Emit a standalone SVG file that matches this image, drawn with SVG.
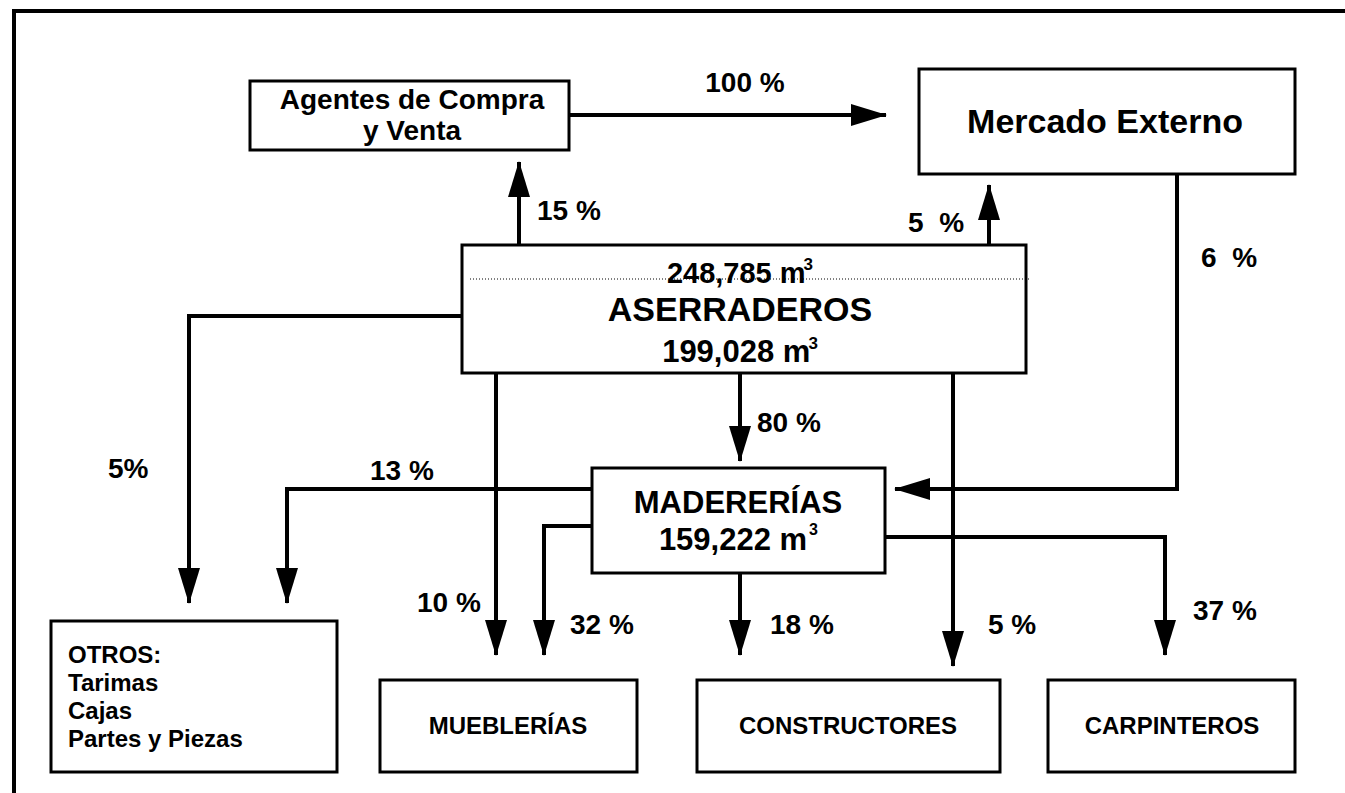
<svg xmlns="http://www.w3.org/2000/svg" width="1345" height="793" viewBox="0 0 1345 793">
<defs>
<style>
.box{fill:#fff;stroke:#000;stroke-width:3}
.t{font-family:"Liberation Sans",Arial,sans-serif;font-weight:bold;fill:#000}
.c{text-anchor:middle}
.pct{font-size:28px}
.con{fill:none;stroke:#000;stroke-width:4;marker-end:url(#ah)}
</style>
<marker id="ah" markerUnits="userSpaceOnUse" markerWidth="36" markerHeight="22" viewBox="0 0 36 22" refX="35" refY="11" orient="auto">
<path d="M0,0 L36,11 L0,22 z" fill="#000"/>
</marker>
</defs>
<rect width="1345" height="793" fill="#fff"/>
<path d="M14,793 V11 H1345" fill="none" stroke="#000" stroke-width="4"/>

<g id="connectors">
<path class="con" d="M570,115 H886"/>
<path class="con" d="M519,245 V162"/>
<path class="con" d="M989,245 V185"/>
<path class="con" d="M1177,174 V489 H895"/>
<path class="con" d="M462,316 H189 V603"/>
<path class="con" d="M496,373 V655"/>
<path class="con" d="M740,373 V461"/>
<path class="con" d="M953,373 V666"/>
<path class="con" d="M592,489 H287 V603"/>
<path class="con" d="M592,526 H544 V655"/>
<path class="con" d="M740,573 V655"/>
<path class="con" d="M885,537 H1165 V655"/>
</g>

<g id="labels" class="t pct">
<text x="745" y="92" class="c">100 %</text>
<text x="537" y="220">15 %</text>
<text x="908" y="232" xml:space="preserve">5  %</text>
<text x="1201" y="267" xml:space="preserve">6  %</text>
<text x="108" y="478">5%</text>
<text x="370" y="480">13 %</text>
<text x="757" y="432">80 %</text>
<text x="417" y="612">10 %</text>
<text x="570" y="634">32 %</text>
<text x="770" y="634">18 %</text>
<text x="988" y="634">5 %</text>
<text x="1193" y="620">37 %</text>
</g>

<g id="agentes">
<rect class="box" x="250" y="81" width="319" height="69"/>
<text class="t c" x="412" y="109" font-size="28">Agentes de Compra</text>
<text class="t c" x="412" y="140" font-size="28">y Venta</text>
</g>

<g id="mercado">
<rect class="box" x="919" y="69" width="376" height="105"/>
<text class="t c" x="1105" y="133" font-size="34">Mercado Externo</text>
</g>

<g id="aserraderos">
<rect class="box" x="462" y="245" width="564" height="128"/>
<line x1="470" y1="279" x2="1030" y2="279" stroke="#000" stroke-width="1" stroke-dasharray="1,2"/>
<text class="t c" x="740" y="283" font-size="29">248,785 m<tspan font-size="17" dx="-2" dy="-13">3</tspan></text>
<text class="t c" x="740" y="321" font-size="34">ASERRADEROS</text>
<text class="t c" x="740" y="362" font-size="31">199,028 m<tspan font-size="17" dx="-2" dy="-13">3</tspan></text>
</g>

<g id="madererias">
<rect class="box" x="592" y="468" width="293" height="105"/>
<text class="t c" x="738" y="513" font-size="31">MADERERÍAS</text>
<text class="t c" x="733" y="550" font-size="31">159,222 m</text>
<text class="t" x="809" y="535" font-size="16">3</text>
</g>

<g id="otros">
<rect class="box" x="51" y="621" width="286" height="151"/>
<text class="t" x="68" y="663" font-size="24">OTROS:</text>
<text class="t" x="68" y="691" font-size="24">Tarimas</text>
<text class="t" x="68" y="719" font-size="24">Cajas</text>
<text class="t" x="68" y="747" font-size="24">Partes y Piezas</text>
</g>

<g id="mueblerias">
<rect class="box" x="380" y="680" width="257" height="92"/>
<text class="t c" x="508" y="734" font-size="24">MUEBLERÍAS</text>
</g>

<g id="constructores">
<rect class="box" x="697" y="680" width="303" height="92"/>
<text class="t c" x="848" y="734" font-size="24">CONSTRUCTORES</text>
</g>

<g id="carpinteros">
<rect class="box" x="1048" y="680" width="247" height="92"/>
<text class="t c" x="1172" y="734" font-size="24">CARPINTEROS</text>
</g>
</svg>
